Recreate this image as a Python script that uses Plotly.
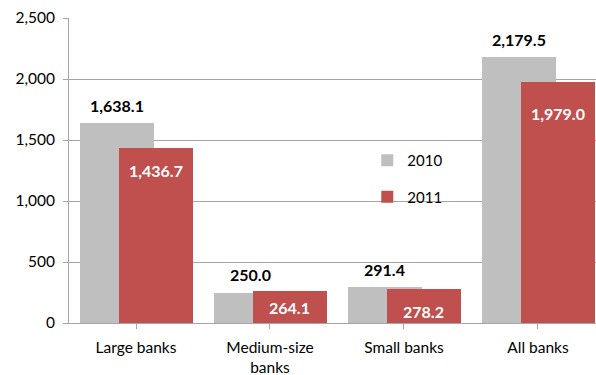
import plotly.graph_objects as go

categories = ["Large banks", "Medium-size<br>banks", "Small banks", "All banks"]
values_2010 = [1638.1, 250.0, 291.4, 2179.5]
values_2011 = [1436.7, 264.1, 278.2, 1979.0]
series_names = ["2010", "2011"]
y_ticks = [0, 500, 1000, 1500, 2000, 2500]

GRAY = "#BFBFBF"
RED = "#C0504D"
FONT = "Lato, Calibri, Carlito, sans-serif"

# label vertical nudges (pixels) for the inside labels of the 2011 bars
inside_shift = [-23, -17, -22, -32]

x_idx = list(range(len(categories)))

fig = go.Figure()
fig.add_trace(go.Bar(
    x=x_idx, y=values_2010, name=series_names[0], marker=dict(color=GRAY, line=dict(width=0)),
    offset=-0.418, width=0.552, legendgroup="a",
))
fig.add_trace(go.Bar(
    x=x_idx, y=values_2011, name=series_names[1], marker=dict(color=RED, line=dict(width=0)),
    offset=-0.127, width=0.552, legendgroup="b",
))

annotations = []
for i, v in enumerate(values_2010):
    annotations.append(dict(
        x=i - 0.418 + 0.276, y=v, xref="x", yref="y", text=f"<b>{v:,.1f}</b>",
        showarrow=False, yshift=18, font=dict(family=FONT, size=16, color="black"),
    ))
for i, v in enumerate(values_2011):
    annotations.append(dict(
        x=i - 0.127 + 0.276, y=v, xref="x", yref="y", text=f"<b>{v:,.1f}</b>",
        showarrow=False, yshift=inside_shift[i], font=dict(family=FONT, size=16, color="white"),
    ))

fig.update_layout(
    width=596, height=375,
    margin=dict(l=69, r=0, t=18, b=52),
    barmode="overlay",
    plot_bgcolor="white", paper_bgcolor="white",
    font=dict(family=FONT, size=15, color="black"),
    showlegend=True,
    legend=dict(
        x=0.566, y=0.587, xanchor="left", yanchor="top",
        traceorder="grouped", tracegroupgap=14,
        font=dict(family=FONT, size=15, color="black"),
        bgcolor="rgba(0,0,0,0)",
    ),
    annotations=annotations,
    bargap=0,
)
fig.update_xaxes(
    tickmode="array", tickvals=x_idx, ticktext=categories,
    range=[-0.5, 3.433], automargin=False,
    showgrid=False, showline=True, linecolor="#A6A6A6", linewidth=1,
    ticks="outside", tickson="boundaries", ticklen=5, tickcolor="#A6A6A6",
    tickfont=dict(family=FONT, size=15.5, color="black"),
    ticklabelstandoff=5,
    zeroline=False,
)
fig.update_yaxes(
    range=[0, 2500], tickvals=y_ticks, tickformat=",", automargin=False,
    showgrid=True, gridcolor="#A6A6A6", gridwidth=1,
    showline=True, linecolor="#A6A6A6", linewidth=1,
    ticks="outside", ticklen=5, tickcolor="#A6A6A6",
    tickfont=dict(family=FONT, size=15.5, color="black"),
    ticklabelstandoff=5,
    zeroline=False,
)

fig.write_html("out.html")
